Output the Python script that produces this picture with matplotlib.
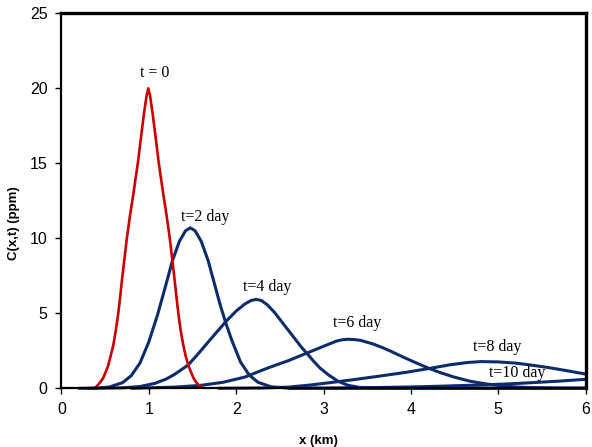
import matplotlib
matplotlib.use("Agg")
import matplotlib.pyplot as plt

plt.rcParams['font.family'] = ['Liberation Sans', 'DejaVu Sans']

# concentration profiles (x in km, C in ppm)
x_t0 = [0.369, 0.39, 0.414, 0.44, 0.474, 0.50, 0.534, 0.56, 0.594, 0.62, 0.649, 0.67, 0.694, 0.72, 0.746,
        0.784, 0.824, 0.876, 0.914, 0.944, 0.974, 0.994, 1.014, 1.044, 1.074, 1.112, 1.164, 1.204, 1.242,
        1.268, 1.294, 1.318, 1.339, 1.366, 1.394, 1.424, 1.454, 1.488, 1.514, 1.548, 1.574, 1.619]
c_t0 = [0.0, 0.07, 0.2, 0.38, 0.65, 1.0, 1.5, 2.1, 2.9, 3.8, 4.95, 6.0, 7.3, 8.6, 9.9,
        11.5, 13.0, 15.1, 16.9, 18.3, 19.5, 20.0, 19.5, 18.3, 16.9, 15.1, 13.0, 11.5, 9.9,
        8.6, 7.3, 6.0, 4.95, 3.8, 2.9, 2.1, 1.5, 1.0, 0.65, 0.35, 0.2, 0.0]

x_t2 = [0.20, 0.40, 0.55, 0.70, 0.80, 0.90, 1.00, 1.10, 1.20, 1.27, 1.35, 1.42, 1.475, 1.53, 1.60, 1.68,
        1.75, 1.82, 1.89, 1.95, 2.05, 2.15, 2.25, 2.40, 2.60, 3.00, 6.00]
c_t2 = [0.0, 0.0, 0.09, 0.38, 0.85, 1.7, 3.1, 4.9, 7.0, 8.5, 9.8, 10.5, 10.7, 10.5, 9.8, 8.5,
        7.0, 5.5, 4.2, 3.2, 1.75, 0.88, 0.4, 0.1, 0.02, 0.0, 0.0]

x_t4 = [0.30, 0.70, 0.90, 1.07, 1.20, 1.30, 1.45, 1.55, 1.66, 1.76, 1.89, 2.00, 2.10, 2.17, 2.228, 2.29,
        2.36, 2.44, 2.52, 2.60, 2.68, 2.75, 2.81, 2.88, 2.96, 3.06, 3.17, 3.28, 3.40, 3.55, 3.80, 6.00]
c_t4 = [0.0, 0.03, 0.12, 0.33, 0.62, 0.95, 1.55, 2.2, 2.95, 3.63, 4.5, 5.15, 5.62, 5.85, 5.93, 5.85,
        5.55, 5.05, 4.45, 3.85, 3.25, 2.72, 2.33, 1.85, 1.35, 0.88, 0.46, 0.2, 0.07, 0.02, 0.0, 0.0]

x_t6 = [0.80, 1.30, 1.60, 1.85, 2.10, 2.36, 2.60, 2.81, 3.00, 3.15, 3.22, 3.28, 3.35, 3.42, 3.56, 3.68,
        3.76, 3.88, 4.00, 4.11, 4.22, 4.35, 4.50, 4.68, 4.85, 5.00, 5.20, 5.40, 5.70, 6.00]
c_t6 = [0.0, 0.08, 0.2, 0.4, 0.75, 1.35, 1.85, 2.35, 2.8, 3.15, 3.24, 3.27, 3.25, 3.2, 2.97, 2.7,
        2.5, 2.17, 1.85, 1.57, 1.3, 1.02, 0.74, 0.47, 0.3, 0.19, 0.09, 0.04, 0.01, 0.0]

x_t8 = [1.80, 2.30, 2.60, 2.85, 3.08, 3.35, 3.65, 3.95, 4.22, 4.45, 4.65, 4.80, 5.00, 5.20, 5.40, 5.60, 5.80, 6.00]
c_t8 = [0.0, 0.02, 0.08, 0.22, 0.38, 0.58, 0.82, 1.07, 1.33, 1.57, 1.72, 1.78, 1.76, 1.68, 1.53, 1.36, 1.16, 0.95]

x_t10 = [2.60, 3.00, 3.50, 4.00, 4.34, 4.79, 5.10, 5.37, 5.70, 6.00]
c_t10 = [0.0, 0.01, 0.04, 0.09, 0.14, 0.22, 0.29, 0.37, 0.48, 0.60]

labels = ["t = 0", "t=2 day", "t=4 day", "t=6 day", "t=8 day", "t=10 day"]
label_x = [1.07, 1.64, 2.35, 3.39, 4.99, 5.22]
label_y = [21.0, 11.4, 6.77, 4.37, 2.77, 1.0]

red = '#CC0000'
navy = '#0C2C6C'

fig = plt.figure(figsize=(5.92, 4.47), dpi=100)
ax = fig.add_axes([61.5 / 592, 1 - 388.3 / 447, 524 / 592, 375 / 447])

for xs, cs in [(x_t2, c_t2), (x_t4, c_t4), (x_t6, c_t6), (x_t8, c_t8), (x_t10, c_t10)]:
    ax.plot(xs, cs, color=navy, lw=2.2, solid_joinstyle='round', solid_capstyle='round', clip_on=False)
ax.plot(x_t0, c_t0, color=red, lw=1.9, solid_joinstyle='round')

for txt, tx, ty in zip(labels, label_x, label_y):
    ax.text(tx, ty, txt, ha='center', va='center', fontsize=11.5,
            family=['Liberation Serif', 'DejaVu Serif'])

ax.set_xlim(0, 6)
ax.set_ylim(0, 25)
ax.set_xticks(range(0, 7))
ax.set_yticks(range(0, 26, 5))
ax.tick_params(direction='out', length=4, width=1, labelsize=11.5, pad=6, colors='black')

ax.spines['top'].set_linewidth(2.4)
ax.spines['right'].set_linewidth(2.4)
ax.spines['left'].set_linewidth(1.6)
ax.spines['bottom'].set_linewidth(1.6)

ax.set_xlabel("x (km)", fontsize=9.5, fontweight='bold')
ax.set_ylabel("C(x,t) (ppm)", fontsize=9.5, fontweight='bold')
ax.xaxis.set_label_coords(0.49, -0.125)
ax.yaxis.set_label_coords(-0.08, 0.441)

fig.savefig("out.png", dpi=100)
